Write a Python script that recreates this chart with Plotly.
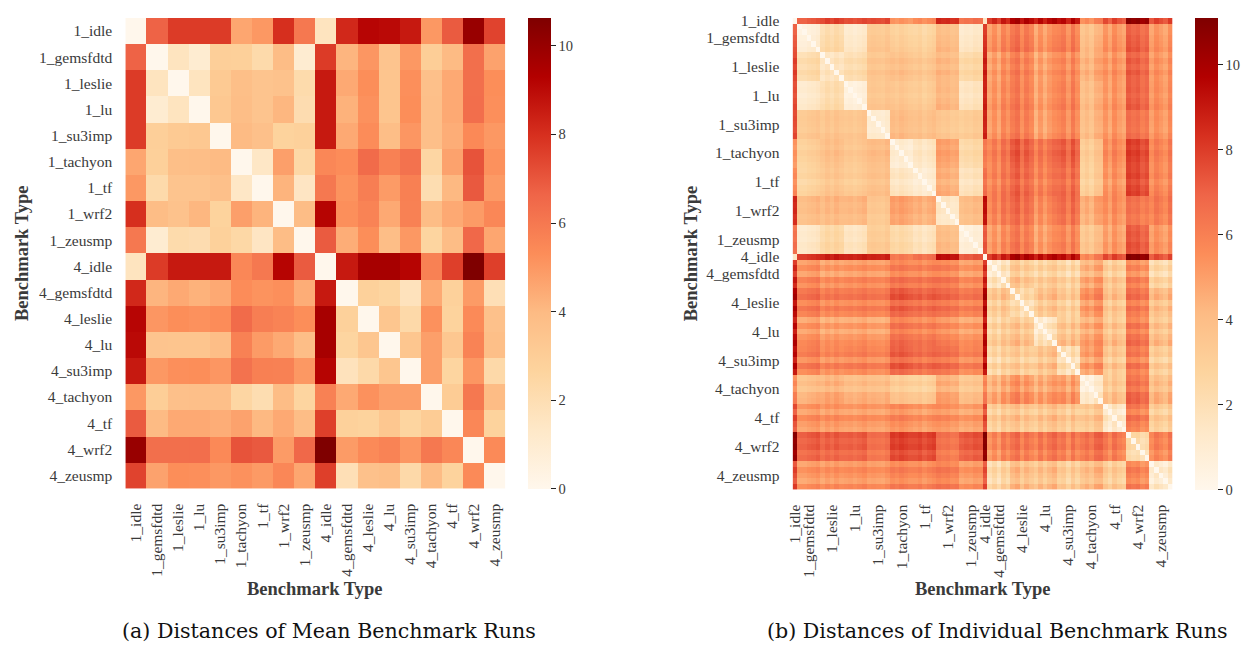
import plotly.graph_objects as go

W, H = 1258, 646

benchmarks = ["1_idle", "1_gemsfdtd", "1_leslie", "1_lu", "1_su3imp", "1_tachyon", "1_tf", "1_wrf2", "1_zeusmp",
              "4_idle", "4_gemsfdtd", "4_leslie", "4_lu", "4_su3imp", "4_tachyon", "4_tf", "4_wrf2", "4_zeusmp"]

# runs recorded per benchmark (idle has a single run)
runs_per_benchmark = [1, 5, 5, 5, 5, 5, 5, 5, 5, 1, 5, 5, 5, 5, 5, 5, 5, 5]

# distances between the mean runs of each benchmark
mean_dist = [
    [0.0, 6.7, 7.7, 7.7, 7.7, 4.6, 5.0, 8.0, 6.0, 1.6, 8.2, 9.15, 9.05, 8.6, 5.0, 6.9, 10.0, 7.5],
    [6.7, 0.0, 1.6, 1.0, 2.9, 2.85, 2.25, 3.9, 1.0, 7.7, 4.15, 5.05, 3.5, 5.0, 3.0, 4.0, 6.3, 4.7],
    [7.7, 1.6, 0.0, 1.6, 3.2, 3.8, 3.5, 3.6, 2.2, 8.6, 4.5, 5.3, 3.45, 5.25, 3.7, 4.5, 6.3, 5.3],
    [7.7, 1.0, 1.6, 0.0, 3.3, 3.85, 3.5, 4.1, 2.1, 8.6, 4.25, 5.2, 3.45, 5.3, 3.75, 4.5, 6.35, 5.25],
    [7.7, 2.9, 3.2, 3.3, 0.0, 4.0, 3.7, 2.7, 2.8, 8.6, 4.5, 5.35, 3.85, 5.05, 3.75, 4.4, 5.45, 5.0],
    [4.6, 2.85, 3.8, 3.85, 4.0, 0.0, 1.4, 4.8, 2.4, 5.5, 5.35, 6.45, 5.7, 6.2, 2.5, 4.7, 7.1, 5.2],
    [5.0, 2.25, 3.5, 3.5, 3.7, 1.4, 0.0, 4.2, 1.5, 6.0, 5.15, 5.8, 4.9, 5.75, 2.05, 4.05, 6.95, 4.95],
    [8.0, 3.9, 3.6, 4.1, 2.7, 4.8, 4.2, 0.0, 3.9, 9.2, 5.25, 5.65, 4.5, 5.7, 3.9, 4.5, 4.9, 5.5],
    [6.0, 1.0, 2.2, 2.1, 2.8, 2.4, 1.5, 3.9, 0.0, 6.9, 4.4, 5.3, 3.85, 5.0, 2.6, 3.9, 6.55, 4.6],
    [1.6, 7.7, 8.6, 8.6, 8.6, 5.5, 6.0, 9.2, 6.9, 0.0, 8.6, 9.6, 9.6, 9.2, 5.7, 7.6, 10.63, 7.6],
    [8.2, 4.15, 4.5, 4.25, 4.5, 5.35, 5.15, 5.25, 4.4, 8.6, 0.0, 2.8, 2.6, 1.7, 4.5, 2.8, 4.9, 1.9],
    [9.15, 5.05, 5.3, 5.2, 5.35, 6.45, 5.8, 5.65, 5.3, 9.6, 2.8, 0.0, 3.4, 2.3, 5.2, 2.7, 5.4, 3.65],
    [9.05, 3.5, 3.45, 3.45, 3.85, 5.7, 4.9, 4.5, 3.85, 9.6, 2.6, 3.4, 0.0, 3.4, 4.8, 3.35, 5.65, 3.8],
    [8.6, 5.0, 5.25, 5.3, 5.05, 6.2, 5.75, 5.7, 5.0, 9.2, 1.7, 2.3, 3.4, 0.0, 4.8, 2.6, 5.05, 2.3],
    [5.0, 3.0, 3.7, 3.75, 3.75, 2.5, 2.05, 3.9, 2.6, 5.7, 4.5, 5.2, 4.8, 4.8, 0.0, 3.1, 6.0, 3.95],
    [6.9, 4.0, 4.5, 4.5, 4.4, 4.7, 4.05, 4.5, 3.9, 7.6, 2.8, 2.7, 3.35, 2.6, 3.1, 0.0, 5.5, 2.7],
    [10.0, 6.3, 6.3, 6.35, 5.45, 7.1, 6.95, 4.9, 6.55, 10.63, 4.9, 5.4, 5.65, 5.05, 6.0, 5.5, 0.0, 5.4],
    [7.5, 4.7, 5.3, 5.25, 5.0, 5.2, 4.95, 5.5, 4.6, 7.6, 1.9, 3.65, 3.8, 2.3, 3.95, 2.7, 5.4, 0.0],
]

# typical distance between individual runs of two benchmarks
run_block_dist = [
    [0.0, 7.2, 7.8, 7.6, 7.6, 5.3, 5.6, 8.4, 6.5, 1.5, 8.4, 9.4, 9.2, 9.0, 5.8, 7.4, 10.2, 7.6],
    [7.2, 0.8, 2.3, 1.3, 3.4, 3.0, 2.7, 3.9, 1.4, 8.2, 5.4, 6.0, 5.2, 5.7, 4.1, 5.2, 6.6, 5.2],
    [7.8, 2.3, 1.6, 2.2, 3.5, 3.8, 3.4, 4.0, 2.5, 8.8, 5.0, 5.6, 4.8, 5.3, 4.5, 5.1, 6.5, 5.2],
    [7.6, 1.3, 2.2, 0.7, 3.5, 3.5, 3.2, 4.1, 1.7, 8.8, 5.3, 5.8, 5.0, 5.6, 4.2, 5.1, 6.6, 5.4],
    [7.6, 3.4, 3.5, 3.5, 1.0, 4.0, 3.7, 3.3, 3.2, 8.7, 5.2, 5.7, 4.8, 5.4, 4.1, 5.0, 6.0, 5.2],
    [5.3, 3.0, 3.8, 3.5, 4.0, 1.0, 1.5, 4.8, 2.4, 6.2, 6.0, 6.8, 6.2, 6.7, 3.4, 5.5, 7.4, 5.8],
    [5.6, 2.7, 3.4, 3.2, 3.7, 1.5, 0.9, 4.3, 1.7, 6.5, 5.8, 6.4, 5.8, 6.2, 3.1, 5.1, 7.2, 5.6],
    [8.4, 3.9, 4.0, 4.1, 3.3, 4.8, 4.3, 1.2, 3.9, 9.2, 5.8, 6.2, 5.4, 6.1, 4.6, 5.2, 5.8, 5.9],
    [6.5, 1.4, 2.5, 1.7, 3.2, 2.4, 1.7, 3.9, 0.8, 7.3, 5.2, 5.8, 5.0, 5.5, 3.7, 4.9, 6.8, 5.2],
    [1.5, 8.2, 8.8, 8.8, 8.7, 6.2, 6.5, 9.2, 7.3, 0.0, 8.4, 9.5, 9.2, 9.0, 6.0, 7.5, 10.4, 7.4],
    [8.4, 5.4, 5.0, 5.3, 5.2, 6.0, 5.8, 5.8, 5.2, 8.4, 1.5, 3.0, 2.8, 2.3, 4.6, 3.0, 5.2, 2.4],
    [9.4, 6.0, 5.6, 5.8, 5.7, 6.8, 6.4, 6.2, 5.8, 9.5, 3.0, 1.8, 3.2, 2.6, 5.2, 3.2, 5.6, 3.6],
    [9.2, 5.2, 4.8, 5.0, 4.8, 6.2, 5.8, 5.4, 5.0, 9.2, 2.8, 3.2, 1.4, 3.2, 4.8, 3.4, 5.7, 3.6],
    [9.0, 5.7, 5.3, 5.6, 5.4, 6.7, 6.2, 6.1, 5.5, 9.0, 2.3, 2.6, 3.2, 1.5, 4.9, 3.0, 5.4, 2.8],
    [5.8, 4.1, 4.5, 4.2, 4.1, 3.4, 3.1, 4.6, 3.7, 6.0, 4.6, 5.2, 4.8, 4.9, 1.2, 3.5, 6.2, 4.1],
    [7.4, 5.2, 5.1, 5.1, 5.0, 5.5, 5.1, 5.2, 4.9, 7.5, 3.0, 3.2, 3.4, 3.0, 3.5, 1.2, 5.6, 3.0],
    [10.2, 6.6, 6.5, 6.6, 6.0, 7.4, 7.2, 5.8, 6.8, 10.4, 5.2, 5.6, 5.7, 5.4, 6.2, 5.6, 1.5, 5.4],
    [7.6, 5.2, 5.2, 5.4, 5.2, 5.8, 5.6, 5.9, 5.2, 7.4, 2.4, 3.6, 3.6, 2.8, 4.1, 3.0, 5.4, 1.2],
]

# how far each individual run sits from its benchmark's typical run
run_spread = [
    0.0,
    -0.2, -0.2, 0.0, 0.1, 0.3,
    -0.2, 0.2, -0.1, 0.3, 0.0,
    -0.1, 0.0, -0.2, 0.0, 0.2,
    0.0, 0.1, 0.0, -0.1, 0.2,
    0.1, -0.1, 0.2, 0.0, -0.2,
    0.0, 0.2, -0.2, 0.1, 0.3,
    0.3, 0.1, 0.2, -0.1, 0.0,
    -0.2, 0.0, -0.1, 0.2, 0.1,
    0.0,
    -0.4, 0.3, -0.5, 0.7, 0.1,
    0.4, 0.8, -0.3, 0.5, 0.0,
    -0.5, 0.4, -0.4, 0.3, 0.7,
    0.3, 0.6, -0.3, 0.8, 0.0,
    -0.4, 0.0, -0.5, 0.3, 0.4,
    0.3, -0.4, 0.6, 0.0, -0.3,
    0.7, 0.4, 0.6, 0.0, 0.3,
    -0.3, 0.4, 0.0, -0.4, 0.5,
]

colorbar_ticks = [0, 2, 4, 6, 8, 10]

# ---- individual run matrix ----
run_group = [g for g, n in enumerate(runs_per_benchmark) for _ in range(n)]
n_runs = len(run_group)
run_dist = [
    [0.0 if i == j else max(run_block_dist[run_group[i]][run_group[j]] + run_spread[i] + run_spread[j], 0.0)
     for j in range(n_runs)]
    for i in range(n_runs)
]

# tick at the middle of each benchmark's block of runs
group_centers = []
start = 0
for n in runs_per_benchmark:
    group_centers.append(start + (n - 1) / 2)
    start += n

orrd = ["rgb(255,247,236)", "rgb(254,232,200)", "rgb(253,212,158)", "rgb(253,187,132)",
        "rgb(252,141,89)", "rgb(239,101,72)", "rgb(215,48,31)", "rgb(179,0,0)", "rgb(127,0,0)"]

TICK_FONT = dict(family="Liberation Serif", size=15.5, color="#3a3a3a")
CBAR_FONT = dict(family="Liberation Serif", size=14.5, color="#3a3a3a")
TITLE_FONT = dict(family="Liberation Serif", size=18.5, color="#3a3a3a")
CAPTION_FONT = dict(family="DejaVu Serif", size=20.6, color="#111111")


def px_x(x):
    return x / W


def px_y(y):
    return 1 - y / H


def colorbar(left, top, bottom):
    return dict(
        x=px_x(left), xanchor="left", xref="paper",
        y=px_y(top), yanchor="top", yref="paper",
        len=(bottom - top) / H, lenmode="fraction",
        thickness=23, thicknessmode="pixels",
        xpad=0, ypad=0, outlinewidth=0,
        tickvals=colorbar_ticks, ticks="outside", ticklen=5, tickwidth=1.3,
        tickcolor="#222", tickfont=CBAR_FONT,
    )


fig = go.Figure()

n_b = len(benchmarks)
fig.add_trace(go.Heatmap(
    z=mean_dist, x=list(range(n_b)), y=list(range(n_b)),
    colorscale=orrd, zmin=0, zmax=max(max(r) for r in mean_dist),
    colorbar=colorbar(524, 12, 487), xaxis="x", yaxis="y",
    hoverinfo="skip",
))

fig.add_trace(go.Heatmap(
    z=run_dist, x=list(range(n_runs)), y=list(range(n_runs)),
    colorscale=orrd, zmin=0, zmax=max(max(r) for r in run_dist),
    colorbar=colorbar(1195, 12, 488), xaxis="x2", yaxis="y2",
    hoverinfo="skip",
))

x_common = dict(showgrid=False, zeroline=False, showline=False,
                ticks="outside", ticklen=8, tickcolor="rgba(0,0,0,0)", tickfont=TICK_FONT)
y_common = dict(showgrid=False, zeroline=False, showline=False,
                ticks="outside", ticklen=9, tickcolor="rgba(0,0,0,0)", tickfont=TICK_FONT)

fig.update_layout(
    width=W, height=H,
    margin=dict(l=0, r=0, t=0, b=0),
    paper_bgcolor="white", plot_bgcolor="white",
    xaxis=dict(domain=[px_x(119), px_x(501)], range=[-0.5, n_b - 0.5],
               tickvals=list(range(n_b)), ticktext=benchmarks, tickangle=-90,
               anchor="y", **x_common),
    yaxis=dict(domain=[px_y(487), px_y(12)], range=[n_b - 0.5, -0.5],
               tickvals=list(range(n_b)), ticktext=benchmarks,
               anchor="x", **y_common),
    xaxis2=dict(domain=[px_x(790), px_x(1172)], range=[-0.5, n_runs - 0.5],
                tickvals=group_centers, ticktext=benchmarks, tickangle=-90,
                anchor="y2", **x_common),
    yaxis2=dict(domain=[px_y(488), px_y(12)], range=[n_runs - 0.5, -0.5],
                tickvals=group_centers, ticktext=benchmarks,
                anchor="x2", **y_common),
)

annotations = [
    dict(text="<b>Benchmark Type</b>", x=px_x(15), y=px_y(249.5), textangle=-90, font=TITLE_FONT),
    dict(text="<b>Benchmark Type</b>", x=px_x(688), y=px_y(249.5), textangle=-90, font=TITLE_FONT),
    dict(text="<b>Benchmark Type</b>", x=px_x(310), y=px_y(588), font=TITLE_FONT),
    dict(text="<b>Benchmark Type</b>", x=px_x(981), y=px_y(588), font=TITLE_FONT),
    dict(text="(a) Distances of Mean Benchmark Runs", x=px_x(324), y=px_y(631), font=CAPTION_FONT),
    dict(text="(b) Distances of Individual Benchmark Runs", x=px_x(996), y=px_y(631), font=CAPTION_FONT),
]
for a in annotations:
    a.update(xref="paper", yref="paper", showarrow=False, xanchor="center", yanchor="middle")
fig.update_layout(annotations=annotations)

fig.write_html("out.html")
